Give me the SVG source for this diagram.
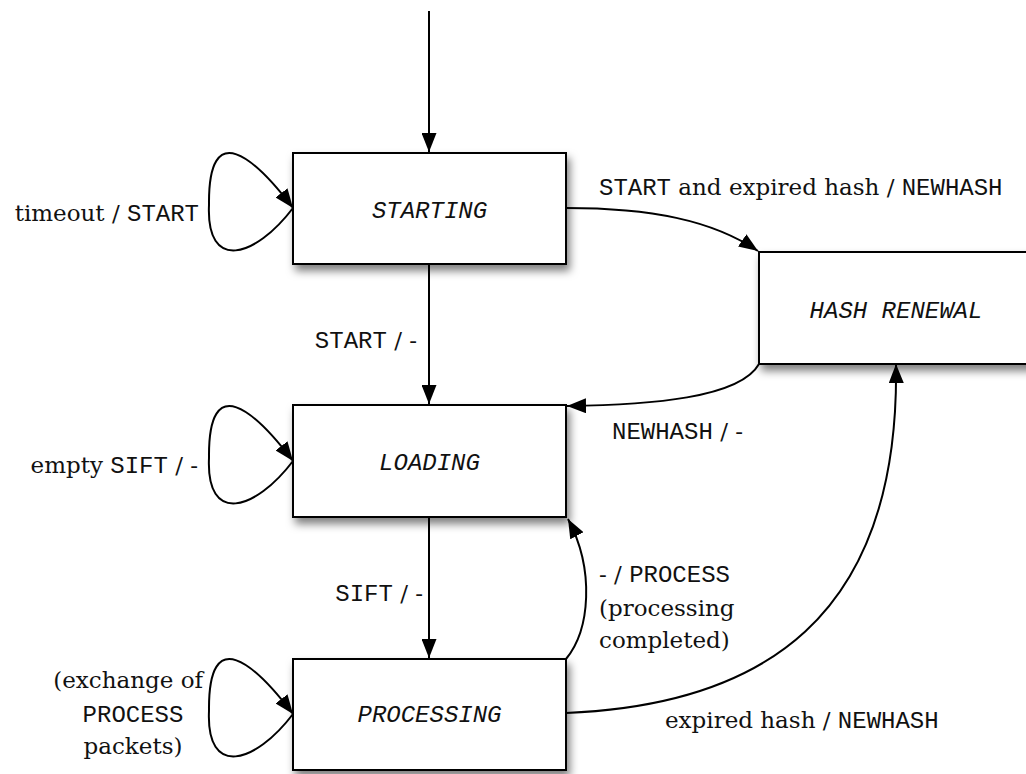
<svg xmlns="http://www.w3.org/2000/svg" width="1026" height="774" viewBox="0 0 1026 774">
<style>
.box{fill:#fff;stroke:#000;stroke-width:2;filter:url(#sh)}
.st{font-family:"Liberation Mono","Courier New",monospace;font-style:italic;font-size:24px;text-anchor:middle;fill:#111}
.lbl{font-family:"DejaVu Serif","Liberation Serif",serif;font-size:23px;fill:#111}
.m{font-family:"Liberation Mono","Courier New",monospace;font-size:24px}
.c{fill:none;stroke:#000;stroke-width:2;marker-end:url(#ah)}
</style>
<defs>
<filter id="sh" x="-10%" y="-10%" width="130%" height="140%">
<feDropShadow dx="3" dy="6" stdDeviation="4" flood-color="#000" flood-opacity="0.5"/>
</filter>
<marker id="ah" viewBox="0 0 19 15" refX="19" refY="7.5" markerWidth="19" markerHeight="15" markerUnits="userSpaceOnUse" orient="auto">
<path d="M0,0 L19,7.5 L0,15 z" fill="#000"/>
</marker>
<path id="loop" d="M293,0 C255,50 206,64 209,-3 C208,-92 255,-50 293,0"/>
</defs>
<rect width="1026" height="774" fill="#fff"/>
<g id="connectors">
<path class="c" d="M429,11 L429,152"/>
<path class="c" d="M429,264 L429,404"/>
<path class="c" d="M429,517 L429,658"/>
<use href="#loop" class="c" transform="translate(0,208)"/>
<use href="#loop" class="c" transform="translate(0,461)"/>
<use href="#loop" class="c" transform="translate(0,714)"/>
<path class="c" d="M566,208 C650,208 712,220 758,251"/>
<path class="c" d="M759,364 C740,398 650,405 567,406"/>
<path class="c" d="M566,659 C590,630 595,570 568,519"/>
<path class="c" d="M566,713 C760,705 900,620 896,364"/>
</g>
<g id="starting"><rect class="box" x="293" y="153" width="273" height="111"/><text class="st" x="429.5" y="218">STARTING</text></g>
<g id="hash-renewal"><rect class="box" x="759" y="252" width="274" height="112"/><text class="st" x="896" y="318">HASH RENEWAL</text></g>
<g id="loading"><rect class="box" x="293" y="405" width="273" height="112"/><text class="st" x="429.5" y="470">LOADING</text></g>
<g id="processing"><rect class="box" x="293" y="659" width="273" height="111"/><text class="st" x="429.5" y="722">PROCESSING</text></g>
<g id="labels">
<text class="lbl" x="199" y="221" text-anchor="end">timeout / <tspan class="m">START</tspan></text>
<text class="lbl" x="599" y="195"><tspan class="m">START</tspan> and expired hash / <tspan class="m">NEWHASH</tspan></text>
<text class="lbl" x="417" y="348" text-anchor="end"><tspan class="m">START</tspan> / -</text>
<text class="lbl" x="612" y="439"><tspan class="m">NEWHASH</tspan> / -</text>
<text class="lbl" x="198" y="473" text-anchor="end">empty <tspan class="m">SIFT</tspan> / -</text>
<text class="lbl" x="423" y="601" text-anchor="end"><tspan class="m">SIFT</tspan> / -</text>
<text class="lbl" x="599" y="582">- / <tspan class="m">PROCESS</tspan></text>
<text class="lbl" x="599" y="616">(processing</text>
<text class="lbl" x="599" y="648">completed)</text>
<text class="lbl" x="665" y="728">expired hash / <tspan class="m">NEWHASH</tspan></text>
<text class="lbl" x="203" y="688" text-anchor="end">(exchange of</text>
<text class="lbl m" x="133" y="722" text-anchor="middle">PROCESS</text>
<text class="lbl" x="133" y="754" text-anchor="middle">packets)</text>
</g>
</svg>
